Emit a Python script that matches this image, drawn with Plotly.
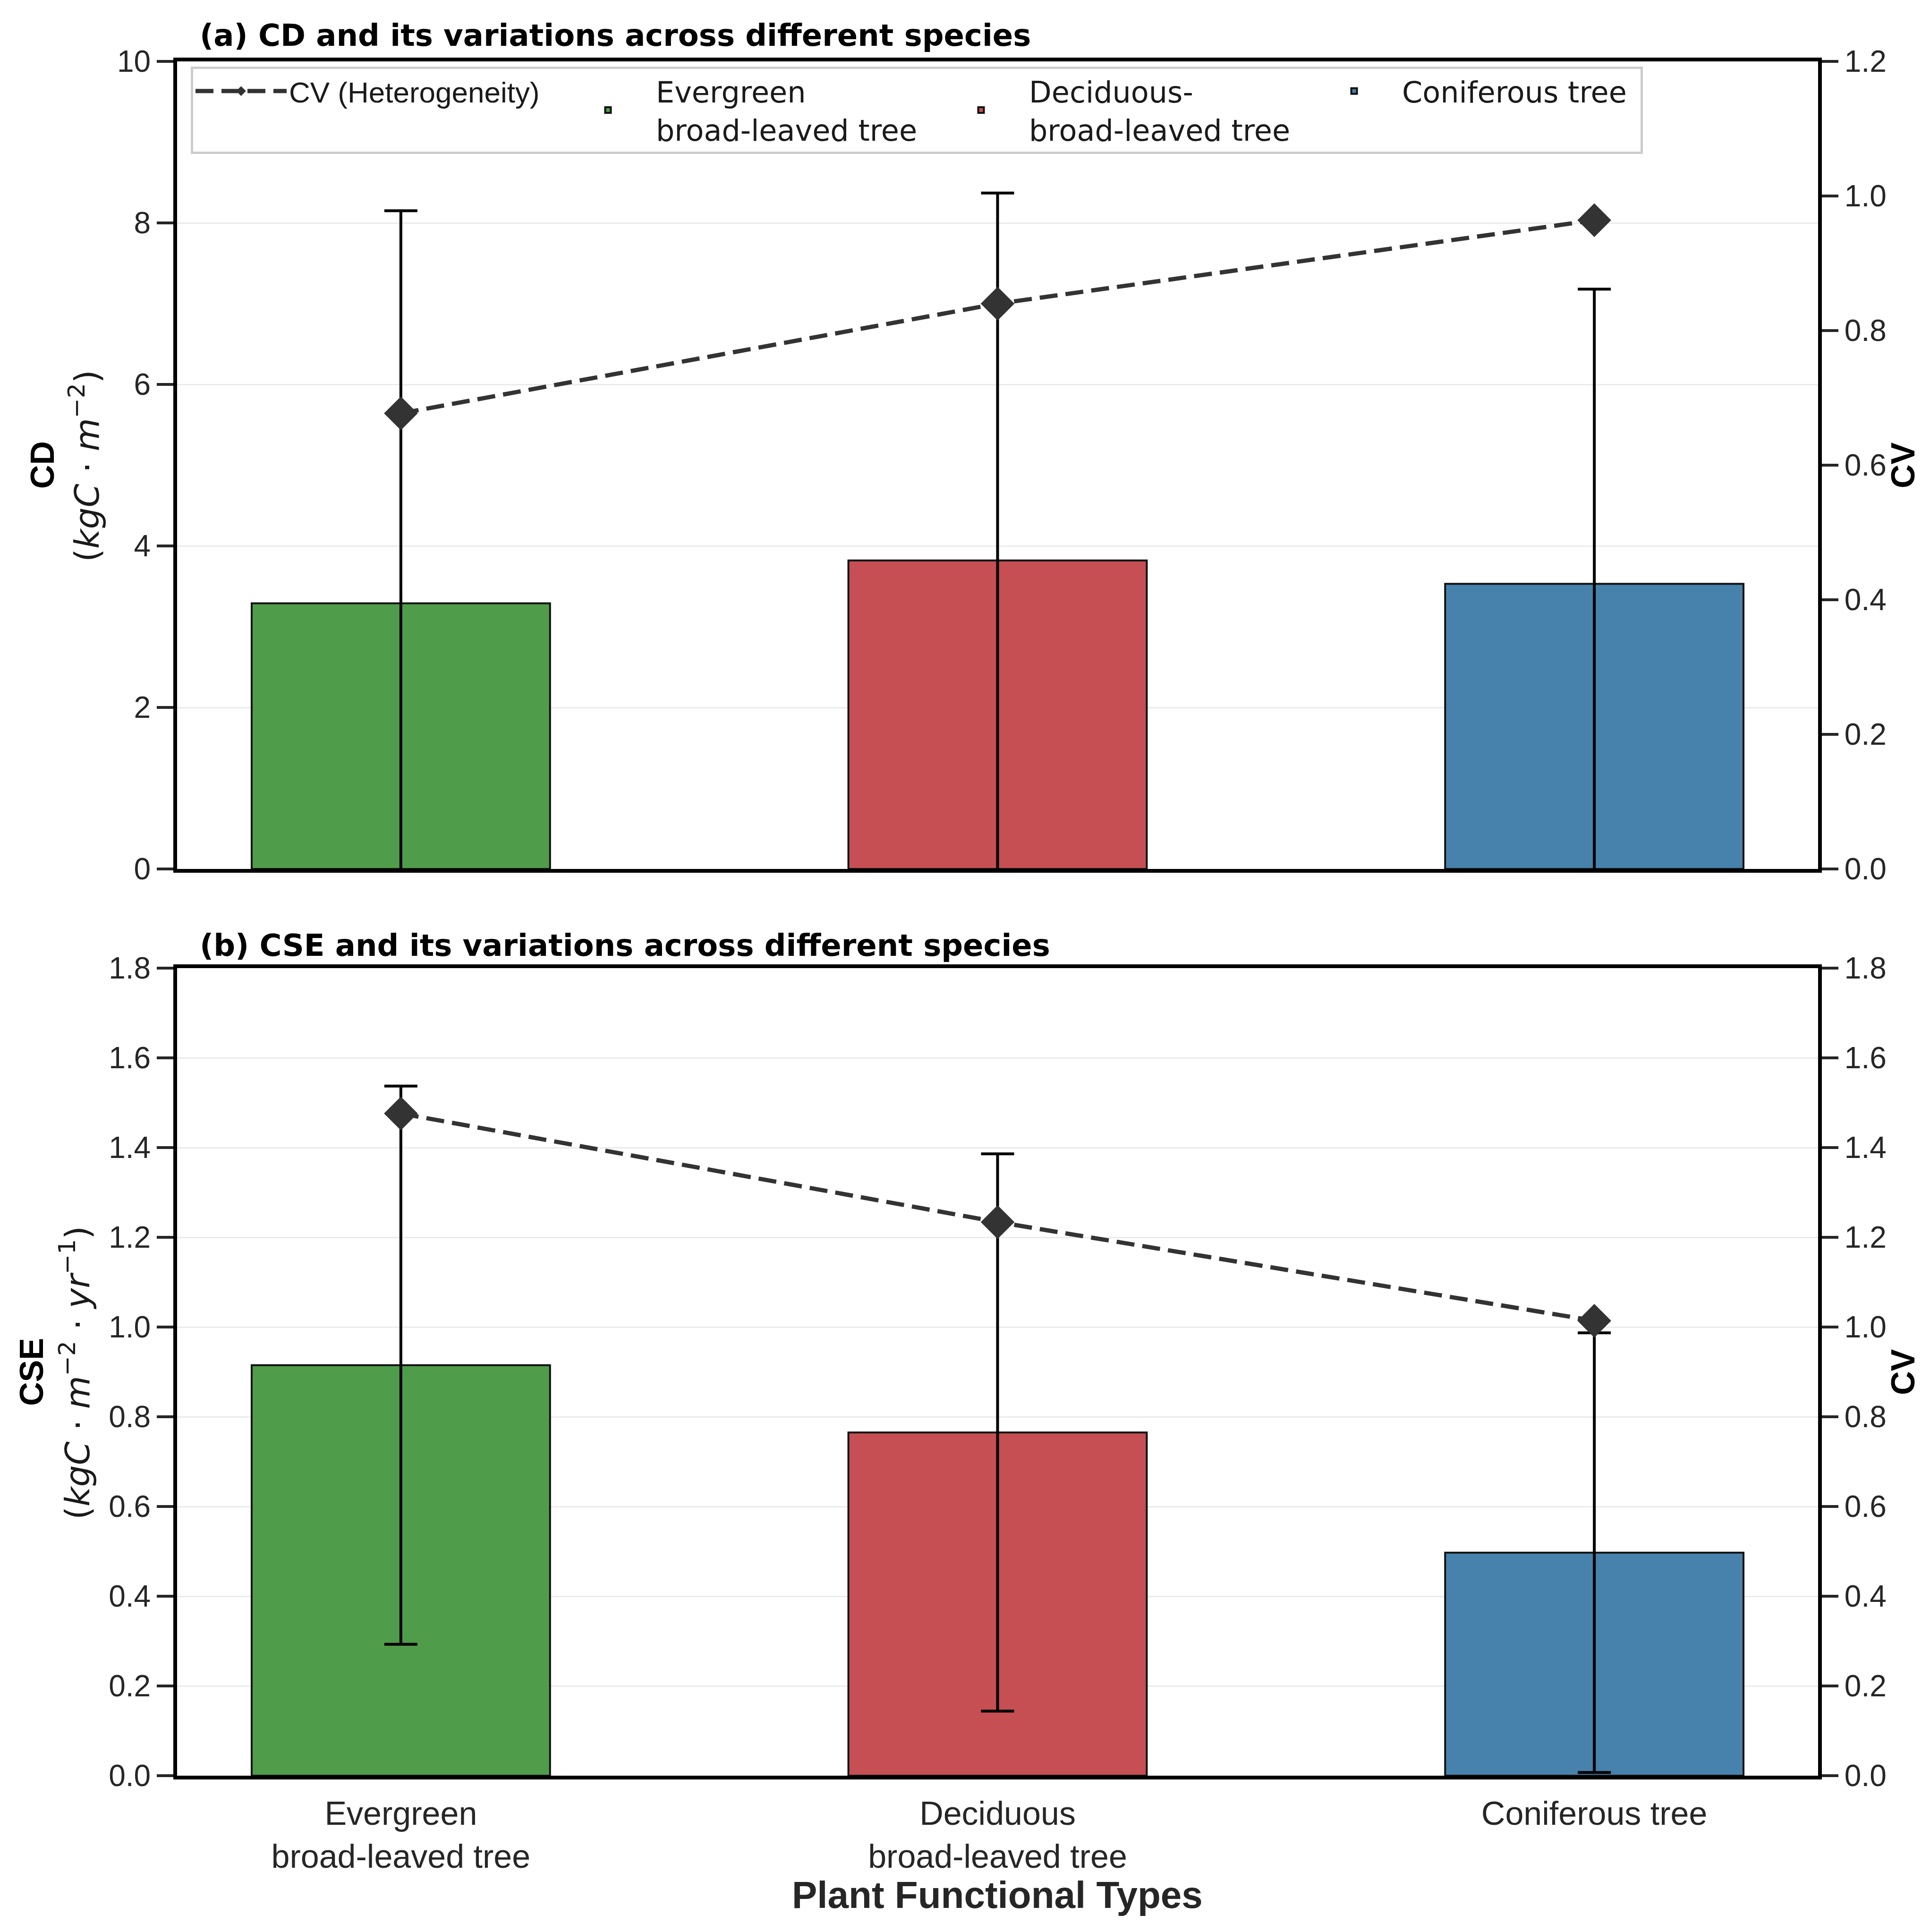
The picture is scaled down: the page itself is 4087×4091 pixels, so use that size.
import plotly.graph_objects as go

# categories (x tick labels)
types = ["Evergreen<br>broad-leaved tree", "Deciduous<br>broad-leaved tree", "Coniferous tree"]
legend_lines = [["Evergreen", "broad-leaved tree"], ["Deciduous-", "broad-leaved tree"], ["Coniferous tree"]]
bar_colors = ["#4f9d4a", "#c54f53", "#4682ab"]

# (a) carbon density
cd_mean = [3.29, 3.82, 3.53]
cd_std = [4.86, 4.55, 3.65]
cd_cv = [0.677, 0.840, 0.964]

# (b) carbon sequestration efficiency
cse_mean = [0.915, 0.765, 0.497]
cse_std = [0.622, 0.621, 0.490]
cse_cv = [1.476, 1.234, 1.014]

W, H = 4087, 4091
OFF = 8  # page body margin
FONT = "Liberation Sans, Arial"
TICKC = "#262626"


def px(x):
    return (x - OFF) / W


def py(y):
    return 1 - (y - OFF) / H


def dv(s):
    return "<span style='font-family:DejaVu Sans'>" + s + "</span>"


legend_names = ["<br>".join(dv(s) for s in lines) for lines in legend_lines]
legend_widths = [582, 582, 500]

fig = go.Figure()

for i in range(3):
    fig.add_trace(go.Bar(
        x=[types[i]], y=[cd_mean[i]], width=0.5, name=legend_names[i],
        marker=dict(color=bar_colors[i], line=dict(color="#111111", width=4)),
        error_y=dict(type="data", array=[cd_std[i]], color="black", thickness=6, width=35),
        xaxis="x", yaxis="y", legendrank=2 + i, legendwidth=legend_widths[i],
    ))
fig.add_trace(go.Scatter(
    x=types, y=cd_cv, name="CV (Heterogeneity)", mode="lines+markers",
    line=dict(color="#333333", width=9, dash="38px,17px"),
    marker=dict(symbol="diamond", size=55, color="#333333"),
    xaxis="x", yaxis="y2", legendrank=1,
))

for i in range(3):
    fig.add_trace(go.Bar(
        x=[types[i]], y=[cse_mean[i]], width=0.5, showlegend=False,
        marker=dict(color=bar_colors[i], line=dict(color="#111111", width=4)),
        error_y=dict(type="data", array=[cse_std[i]], color="black", thickness=6, width=35),
        xaxis="x2", yaxis="y3",
    ))
fig.add_trace(go.Scatter(
    x=types, y=cse_cv, mode="lines+markers", showlegend=False,
    line=dict(color="#333333", width=9, dash="38px,17px"),
    marker=dict(symbol="diamond", size=55, color="#333333"),
    xaxis="x2", yaxis="y4",
))

xdom = [px(375), px(3850)]
top_dom = [py(1840), py(130)]
bot_dom = [py(3760), py(2050)]

axis_line = dict(showline=True, linecolor="black", linewidth=8, zeroline=False, automargin=False)
yticks = dict(ticks="outside", ticklen=35, tickwidth=6, tickcolor=TICKC,
              tickfont=dict(family=FONT, size=64, color=TICKC))

fig.update_layout(
    width=W, height=H,
    margin=dict(l=0, r=0, t=0, b=0),
    paper_bgcolor="white", plot_bgcolor="white",
    barmode="overlay",
    xaxis=dict(domain=xdom, anchor="y", range=[-0.375, 2.375], showticklabels=False,
               ticks="", mirror=True, showgrid=False, **axis_line),
    yaxis=dict(domain=top_dom, anchor="x", range=[0, 10], dtick=2, mirror=True,
               showgrid=True, gridcolor="#ebebeb", gridwidth=3, **axis_line, **yticks),
    yaxis2=dict(overlaying="y", side="right", anchor="x", range=[0, 1.2], dtick=0.2,
                tickformat=".1f", showgrid=False, **axis_line, **yticks),
    xaxis2=dict(domain=xdom, anchor="y3", range=[-0.375, 2.375], ticks="", mirror=True,
                showgrid=False, tickfont=dict(family=FONT, size=70, color=TICKC),
                ticklabelstandoff=12, **axis_line),
    yaxis3=dict(domain=bot_dom, anchor="x2", range=[0, 1.8], dtick=0.2, tickformat=".1f",
                mirror=True, showgrid=True, gridcolor="#ebebeb", gridwidth=3,
                **axis_line, **yticks),
    yaxis4=dict(overlaying="y3", side="right", anchor="x2", range=[0, 1.8], dtick=0.2,
                tickformat=".1f", showgrid=False, **axis_line, **yticks),
    legend=dict(
        orientation="h", x=px(404), y=py(141), xanchor="left", yanchor="top",
        bgcolor="white", bordercolor="#cccccc", borderwidth=5,
        font=dict(family=FONT, size=62, color="#1a1a1a"),
        itemwidth=193, entrywidth=569, traceorder="normal", valign="middle",
    ),
)

title_font = dict(family="DejaVu Sans", size=64, color="black")
label_font = dict(family=FONT, size=70, color="black")
unit_font = dict(family="DejaVu Sans", size=72, color="#1a1a1a")
ann = [
    dict(text="<b>(a) CD and its variations across different species</b>",
         x=px(421), y=py(75), xanchor="left", yanchor="middle", font=title_font),
    dict(text="<b>(b) CSE and its variations across different species</b>",
         x=px(421), y=py(2002), xanchor="left", yanchor="middle", font=title_font),
    # left y titles: bold name line + italic unit line
    dict(text="<b>CD</b>", x=px(90), y=py(985), textangle=-90,
         xanchor="center", yanchor="middle", font=label_font),
    dict(text="(<i>kgC</i> · <i>m</i><sup>−2</sup>)", x=px(179), y=py(987), textangle=-90,
         xanchor="center", yanchor="middle", font=unit_font),
    dict(text="<b>CSE</b>", x=px(67), y=py(2905), textangle=-90,
         xanchor="center", yanchor="middle", font=label_font),
    dict(text="(<i>kgC</i> · <i>m</i><sup>−2</sup> · <i>yr</i><sup>−1</sup>)", x=px(159),
         y=py(2907), textangle=-90, xanchor="center", yanchor="middle", font=unit_font),
    # right y titles
    dict(text="<b>CV</b>", x=px(4030), y=py(985), textangle=-90,
         xanchor="center", yanchor="middle", font=label_font),
    dict(text="<b>CV</b>", x=px(4030), y=py(2905), textangle=-90,
         xanchor="center", yanchor="middle", font=label_font),
    dict(text="<b>Plant Functional Types</b>", x=px(2112), y=py(4012),
         xanchor="center", yanchor="middle", font=dict(family=FONT, size=80, color="#262626")),
]
for a in ann:
    a.update(xref="paper", yref="paper", showarrow=False)
fig.update_layout(annotations=ann)

fig.write_html("out.html")
